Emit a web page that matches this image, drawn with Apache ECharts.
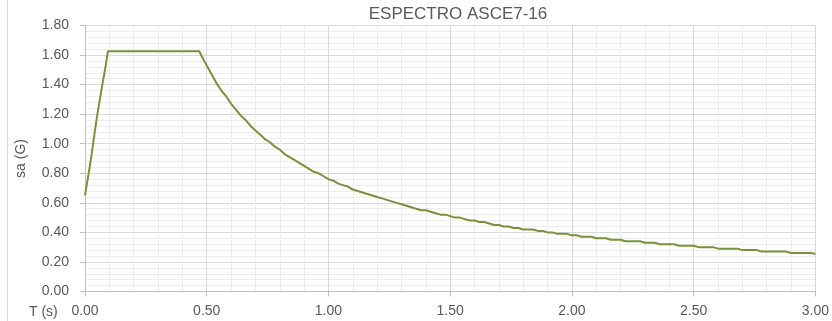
<!DOCTYPE html>
<html>
<head>
<meta charset="utf-8">
<script src="https://cdn.jsdelivr.net/npm/echarts@6/dist/echarts.min.js"></script>
<style>html,body{margin:0;padding:0;background:#fff}#c{width:832px;height:321px}</style>
</head>
<body>
<div id="c"></div>
<script>
const chartTitle = "ESPECTRO ASCE7-16";
const xName = "T (s)";
const yName = "sa (G)";
const xTicks = [0, 0.5, 1.0, 1.5, 2.0, 2.5, 3.0];
const yTicks = [0, 0.2, 0.4, 0.6, 0.8, 1.0, 1.2, 1.4, 1.6, 1.8];

const periods = [
  0.00, 0.02, 0.03, 0.04, 0.05, 0.06, 0.07, 0.08, 0.09, 0.094, 0.47,
  0.48, 0.50, 0.52, 0.54, 0.56, 0.58, 0.60, 0.62, 0.64, 0.66, 0.68, 0.70, 0.72, 0.74, 0.76, 0.78,
  0.80, 0.82, 0.84, 0.86, 0.88, 0.90, 0.92, 0.94, 0.96, 0.98, 1.00, 1.02, 1.04, 1.06, 1.08,
  1.10, 1.12, 1.14, 1.16, 1.18, 1.20, 1.22, 1.24, 1.26, 1.28, 1.30, 1.32, 1.34, 1.36, 1.38,
  1.40, 1.42, 1.44, 1.46, 1.48, 1.50, 1.52, 1.54, 1.56, 1.58, 1.60, 1.62, 1.64, 1.66, 1.68,
  1.70, 1.72, 1.74, 1.76, 1.78, 1.80, 1.82, 1.84, 1.86, 1.88, 1.90, 1.92, 1.94, 1.96, 1.98,
  2.00, 2.02, 2.04, 2.06, 2.08, 2.10, 2.12, 2.14, 2.16, 2.18, 2.20, 2.22, 2.24, 2.26, 2.28,
  2.30, 2.32, 2.34, 2.36, 2.38, 2.40, 2.42, 2.44, 2.46, 2.48, 2.50, 2.52, 2.54, 2.56, 2.58,
  2.60, 2.62, 2.64, 2.66, 2.68, 2.70, 2.72, 2.74, 2.76, 2.78, 2.80, 2.82, 2.84, 2.86, 2.88,
  2.90, 2.92, 2.94, 2.96, 2.98, 3.00
];
const saValues = [
  0.65, 0.85, 0.96, 1.08, 1.19, 1.29, 1.39, 1.48, 1.58, 1.625, 1.625,
  1.59, 1.53, 1.47, 1.41, 1.36, 1.32, 1.27, 1.23, 1.19, 1.16, 1.12, 1.09, 1.06, 1.03, 1.01, 0.98,
  0.96, 0.93, 0.91, 0.89, 0.87, 0.85, 0.83, 0.81, 0.80, 0.78, 0.76, 0.75, 0.73, 0.72, 0.71,
  0.69, 0.68, 0.67, 0.66, 0.65, 0.64, 0.63, 0.62, 0.61, 0.60, 0.59, 0.58, 0.57, 0.56, 0.55,
  0.55, 0.54, 0.53, 0.52, 0.52, 0.51, 0.50, 0.50, 0.49, 0.48, 0.48, 0.47, 0.47, 0.46, 0.45,
  0.45, 0.44, 0.44, 0.43, 0.43, 0.42, 0.42, 0.42, 0.41, 0.41, 0.40, 0.40, 0.39, 0.39, 0.39,
  0.38, 0.38, 0.37, 0.37, 0.37, 0.36, 0.36, 0.36, 0.35, 0.35, 0.35, 0.34, 0.34, 0.34, 0.34,
  0.33, 0.33, 0.33, 0.32, 0.32, 0.32, 0.32, 0.31, 0.31, 0.31, 0.31, 0.30, 0.30, 0.30, 0.30,
  0.29, 0.29, 0.29, 0.29, 0.29, 0.28, 0.28, 0.28, 0.28, 0.27, 0.27, 0.27, 0.27, 0.27, 0.27,
  0.26, 0.26, 0.26, 0.26, 0.26, 0.255
];

const seriesData = periods.map((t, i) => [t, saValues[i]]);
const FONT = "Liberation Sans";
const chart = echarts.init(document.getElementById('c'), null, {renderer: 'canvas'});
chart.setOption({
  animation: false,
  backgroundColor: '#ffffff',
  title: {
    text: chartTitle, left: 453, top: 1, textAlign: 'center',
    textStyle: {fontFamily: FONT, fontSize: 17, fontWeight: 'normal', color: '#595959'}
  },
  grid: {left: 85, right: 13, top: 25.5, bottom: 29.5, containLabel: false},
  xAxis: {
    type: 'value', min: xTicks[0], max: xTicks[xTicks.length - 1], interval: 0.5,
    axisLine: {show: true, onZero: false, lineStyle: {color: '#bfbfbf', width: 1}},
    axisTick: {show: true, length: 5, inside: false, lineStyle: {color: '#bfbfbf'}},
    axisLabel: {fontFamily: FONT, fontSize: 14, color: '#595959', margin: 13,
      formatter: v => v.toFixed(2)},
    splitLine: {show: true, lineStyle: {color: '#d9d9d9', width: 1}},
    minorTick: {show: false, splitNumber: 5},
    minorSplitLine: {show: true, lineStyle: {color: '#ededed', width: 1}}
  },
  yAxis: {
    type: 'value', min: yTicks[0], max: yTicks[yTicks.length - 1], interval: 0.2,
    name: yName, nameLocation: 'middle', nameGap: 57, nameRotate: 90,
    nameTextStyle: {fontFamily: FONT, fontSize: 14, color: '#595959'},
    axisLine: {show: true, lineStyle: {color: '#bfbfbf', width: 1}},
    axisTick: {show: true, length: 5, inside: false, lineStyle: {color: '#bfbfbf'}},
    axisLabel: {fontFamily: FONT, fontSize: 14, color: '#595959', margin: 16,
      formatter: v => v.toFixed(2)},
    splitLine: {show: true, lineStyle: {color: '#d9d9d9', width: 1}},
    minorTick: {show: false, splitNumber: 5},
    minorSplitLine: {show: true, lineStyle: {color: '#ededed', width: 1}}
  },
  graphic: [
    {type: 'text', left: 29, top: 305, style: {text: xName, fontFamily: FONT, fontSize: 14, fill: '#595959'}},
    {type: 'line', shape: {x1: 7.5, y1: 0, x2: 7.5, y2: 321}, style: {stroke: '#d9d9d9', lineWidth: 1}}
  ],
  series: [{
    type: 'line', data: seriesData, showSymbol: false, symbol: 'none',
    lineStyle: {color: '#76923c', width: 2}, itemStyle: {color: '#76923c'}
  }]
});
</script>
</body>
</html>
